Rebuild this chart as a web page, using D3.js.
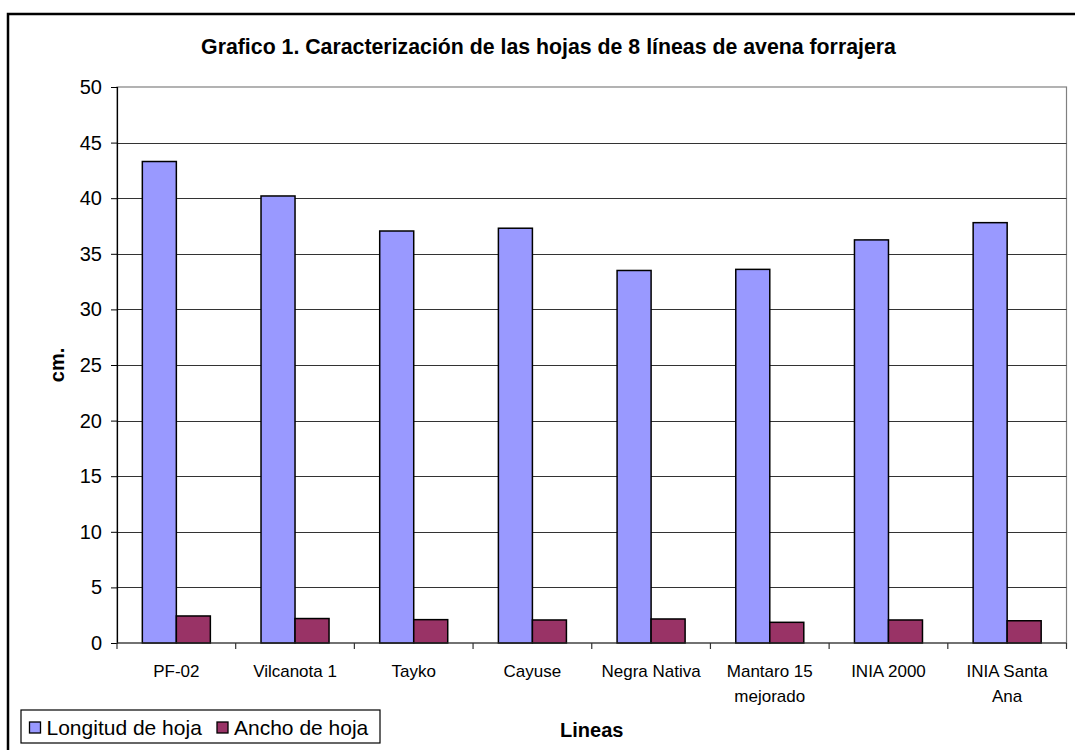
<!DOCTYPE html>
<html>
<head>
<meta charset="utf-8">
<script src="https://cdn.jsdelivr.net/npm/d3@7"></script>
<style>
  body { margin: 0; background: #fff; }
  text { font-family: "Liberation Sans", Arial, sans-serif; fill: #000; }
</style>
</head>
<body>
<script>
const categories = ["PF-02", "Vilcanota 1", "Tayko", "Cayuse", "Negra Nativa", "Mantaro 15\nmejorado", "INIA 2000", "INIA Santa\nAna"];
const seriesNames = ["Longitud de hoja", "Ancho de hoja"];
const longitud = [43.3, 40.2, 37.05, 37.3, 33.5, 33.6, 36.25, 37.8];
const ancho = [2.43, 2.2, 2.1, 2.07, 2.16, 1.86, 2.07, 2.0];
const yTicks = [0, 5, 10, 15, 20, 25, 30, 35, 40, 45, 50];
const colors = ["#9999ff", "#993366"];

const W = 1075, H = 750;
const plotLeft = 117, plotRight = 1066.5, plotTop = 87, plotBottom = 643;

const svg = d3.select("body").append("svg")
  .attr("width", W)
  .attr("height", H);

// outer chart border (runs off the right and bottom edge)
svg.append("rect")
  .attr("x", 8).attr("y", 14)
  .attr("width", 1100).attr("height", 760)
  .attr("fill", "#fff")
  .attr("stroke", "#000")
  .attr("stroke-width", 2.5);

const x = d3.scaleBand().domain(categories).range([plotLeft, plotRight]);
const x1 = d3.scaleBand().domain(seriesNames).range([0, x.bandwidth()])
  .paddingInner(0).paddingOuter(0.745);
const y = d3.scaleLinear().domain([0, 50]).range([plotBottom, plotTop]);

// plot area frame
svg.append("rect")
  .attr("x", plotLeft).attr("y", plotTop)
  .attr("width", plotRight - plotLeft).attr("height", plotBottom - plotTop)
  .attr("fill", "none")
  .attr("stroke", "#808080")
  .attr("stroke-width", 1.2);

// gridlines
svg.append("g").selectAll("line")
  .data(yTicks.filter(d => d > 0 && d < 50))
  .enter().append("line")
  .attr("x1", plotLeft).attr("x2", plotRight)
  .attr("y1", d => Math.round(y(d)) + 0.5)
  .attr("y2", d => Math.round(y(d)) + 0.5)
  .attr("stroke", "#333")
  .attr("stroke-width", 1);

// bars
const data = categories.map((c, i) => ({ cat: c, vals: [longitud[i], ancho[i]] }));
svg.append("g").selectAll("g")
  .data(data)
  .enter().append("g")
  .attr("transform", d => `translate(${x(d.cat)},0)`)
  .selectAll("rect")
  .data(d => d.vals.map((v, j) => ({ name: seriesNames[j], v: v, j: j })))
  .enter().append("rect")
  .attr("x", d => x1(d.name))
  .attr("width", x1.bandwidth())
  .attr("y", d => y(d.v))
  .attr("height", d => y(0) - y(d.v))
  .attr("fill", d => colors[d.j])
  .attr("stroke", "#000")
  .attr("stroke-width", 1.5);

// y axis
const yAxis = svg.append("g")
  .attr("transform", `translate(${plotLeft},0)`)
  .call(d3.axisLeft(y).tickValues(yTicks).tickSize(6).tickPadding(9));
yAxis.select(".domain").attr("stroke", "#000").attr("stroke-width", 1.2);
yAxis.selectAll(".tick line").attr("stroke", "#000");
yAxis.selectAll(".tick text")
  .style("font-family", "'Liberation Sans', Arial, sans-serif")
  .style("font-size", "20px");

// x axis baseline and boundary ticks
svg.append("line")
  .attr("x1", plotLeft).attr("x2", plotRight)
  .attr("y1", y(0)).attr("y2", y(0))
  .attr("stroke", "#333").attr("stroke-width", 1.2);
const bounds = categories.map(c => x(c)).concat([plotRight]);
svg.append("g").selectAll("line")
  .data(bounds)
  .enter().append("line")
  .attr("x1", d => d).attr("x2", d => d)
  .attr("y1", y(0)).attr("y2", y(0) + 6)
  .attr("stroke", "#333").attr("stroke-width", 1.2);

// category labels
const labels = svg.append("g").selectAll("text")
  .data(categories)
  .enter().append("text")
  .attr("x", d => x(d) + x.bandwidth() / 2)
  .attr("y", 677)
  .attr("text-anchor", "middle")
  .style("font-size", "17px");
labels.selectAll("tspan")
  .data(d => d.split("\n"))
  .enter().append("tspan")
  .attr("x", function() { return this.parentNode.getAttribute("x"); })
  .attr("dy", (d, i) => i === 0 ? 0 : 25)
  .text(d => d);

// title
svg.append("text")
  .attr("x", 548.5).attr("y", 54)
  .attr("text-anchor", "middle")
  .style("font-size", "21.3px")
  .style("font-weight", "bold")
  .text("Grafico 1. Caracterización de las hojas de 8 líneas de avena forrajera");

// axis titles
svg.append("text")
  .attr("transform", `translate(64,${(plotTop + plotBottom) / 2}) rotate(-90)`)
  .attr("text-anchor", "middle")
  .style("font-size", "20px")
  .style("font-weight", "bold")
  .text("cm.");

svg.append("text")
  .attr("x", (plotLeft + plotRight) / 2).attr("y", 737)
  .attr("text-anchor", "middle")
  .style("font-size", "20px")
  .style("font-weight", "bold")
  .text("Lineas");

// legend
const legend = svg.append("g");
legend.append("rect")
  .attr("x", 21).attr("y", 710)
  .attr("width", 359).attr("height", 33)
  .attr("fill", "#fff")
  .attr("stroke", "#000")
  .attr("stroke-width", 1.2);
const legendX = [29.5, 217];
const items = legend.selectAll("g.item")
  .data(seriesNames)
  .enter().append("g")
  .attr("class", "item")
  .attr("transform", (d, i) => `translate(${legendX[i]},722)`);
items.append("rect")
  .attr("width", 11).attr("height", 11)
  .attr("fill", (d, i) => colors[i])
  .attr("stroke", "#000")
  .attr("stroke-width", 1.3);
items.append("text")
  .attr("x", 17).attr("y", 12.5)
  .style("font-size", "21px")
  .text(d => d);
</script>
</body>
</html>
